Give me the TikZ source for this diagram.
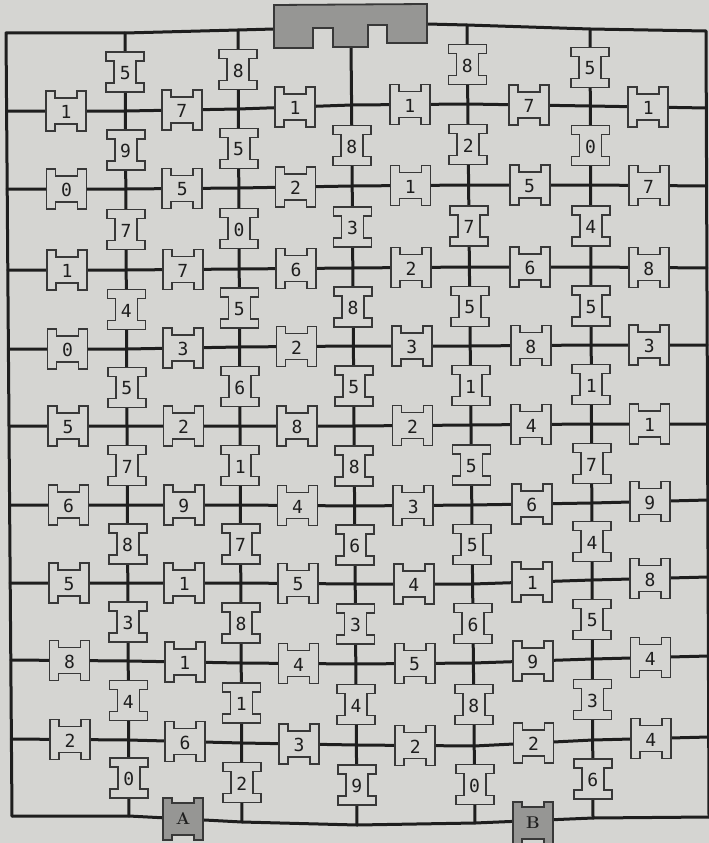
\documentclass[tikz,border=0pt]{standalone}
\usepackage{fontspec}
\newfontfamily\digitfont{DejaVu Sans Mono}
\usetikzlibrary{calc}
\definecolor{paper}{HTML}{D5D5D2}
\definecolor{ink}{HTML}{1E1E1E}
\definecolor{boxink}{HTML}{383838}
\definecolor{gatefill}{HTML}{969694}
\tikzset{
  wire/.style={draw=ink, line width=3pt, line join=round, line cap=round},
  boxline/.style={draw=boxink, line width=1.8pt, fill=paper, line join=miter},
  termline/.style={draw=boxink, line width=1.8pt, fill=gatefill, line join=miter},
  digit/.style={font=\digitfont\fontsize{18}{18}\selectfont, text=ink, inner sep=0pt},
  termlabel/.style={font=\rmfamily\bfseries\fontsize{17}{17}\selectfont, text=ink, inner sep=0pt},
  hres/.pic={\path[boxline] (-20,-20) -- (-11,-20) -- (-11,-13) -- (11,-13) -- (11,-20) -- (20,-20)
      -- (20,20) -- (11,20) -- (11,13) -- (-11,13) -- (-11,20) -- (-20,20) -- cycle;
    \node[digit] (-n) at (0,1) {#1};},
  vres/.pic={\path[boxline] (-19,-20) -- (19,-20) -- (19,-11) -- (11,-11) -- (11,11) -- (19,11)
      -- (19,20) -- (-19,20) -- (-19,11) -- (-11,11) -- (-11,-11) -- (-19,-11) -- cycle;
    \node[digit] (-n) at (0,1) {#1};},
  term/.pic={\path[termline] (-20,-21) -- (-11,-21) -- (-11,-16) -- (11,-16) -- (11,-21) -- (20,-21)
      -- (20,21) -- (11,21) -- (11,16) -- (-11,16) -- (-11,21) -- (-20,21) -- cycle;
    \node[termlabel] (-n) {#1};}
}
\begin{document}
\begin{tikzpicture}[x=1pt,y=-1pt]
\useasboundingbox (0,0) rectangle (709,843);
\fill[paper] (0,0) rectangle (709,843);

% grid intersections p-row-col
\foreach \r/\ys in {0/{33,33,30,28,25,29,31},
                    1/{111,111,109,105,104,106,108},
                    2/{189,189,188,186,185,185,186},
                    3/{270,270,269,268,267,267,268},
                    4/{349,349,347,346,346,345,345},
                    5/{426,426,426,426,425,424,424},
                    6/{505,505,505,506,505,503,500},
                    7/{583,583,583,584,584,580,577},
                    8/{660,661,663,664,663,659,656},
                    9/{739,740,743,745,746,740,737},
                    10/{816,816,822,825,823,818,817}}{
  \foreach \yy [count=\c from 0] in \ys {
    \pgfmathsetmacro{\xt}{{6,125,238,351,467,590,706}[\c]}
    \pgfmathsetmacro{\xb}{{12,129,242,357,475,593,709}[\c]}
    \pgfmathsetmacro{\xx}{\xt+(\xb-\xt)*\r/10}
    \coordinate (p-\r-\c) at (\xx,\yy);
  }
}

% top gate
\coordinate (gate-w) at (274,29);
\coordinate (gate-e) at (427,24);
\coordinate (gate-s) at (351,47);

% wires
\draw[wire] (gate-w) -- (p-0-2) -- (p-0-1) -- (p-0-0)
  \foreach \r in {1,...,10}{ -- (p-\r-0)};
\draw[wire] (gate-e) -- (p-0-4) -- (p-0-5) -- (p-0-6)
  \foreach \r in {1,...,10}{ -- (p-\r-6)};
\foreach \r in {1,...,10}{
  \draw[wire] (p-\r-0) \foreach \c in {1,...,6}{ -- (p-\r-\c)};
}
\foreach \c in {1,2,4,5}{
  \draw[wire] (p-0-\c) \foreach \r in {1,...,10}{ -- (p-\r-\c)};
}
\draw[wire] (gate-s) \foreach \r in {1,...,10}{ -- (p-\r-3)};

\path[termline] (274,5) -- (427,4) -- (427,43) -- (387,43) -- (387,25) -- (368,25) -- (368,47)
  -- (333,47) -- (333,28) -- (313,28) -- (313,48) -- (274,48) -- cycle;

% horizontal resistors
\foreach \r/\labs in {1/{1,7,1,1,7,1},
                      2/{0,5,2,1,5,7},
                      3/{1,7,6,2,6,8},
                      4/{0,3,2,3,8,3},
                      5/{5,2,8,2,4,1},
                      6/{6,9,4,3,6,9},
                      7/{5,1,5,4,1,8},
                      8/{8,1,4,5,9,4},
                      9/{2,6,3,2,2,4}}{
  \foreach \lab [count=\c from 0] in \labs {
    \pgfmathtruncatemacro{\cn}{\c+1}
    \pic (h-\r-\c) at ($(p-\r-\c)!0.5!(p-\r-\cn)$) {hres=\lab};
  }
}

% vertical resistors
\foreach \c/\sz/\labs in {1/1/{5,9,7,4,5,7,8,3,4,0},
                          2/1/{8,5,0,5,6,1,7,8,1,2},
                          3/2/{8,3,8,5,8,6,3,4,9},
                          4/1/{8,2,7,5,1,5,5,6,8,0},
                          5/1/{5,0,4,5,1,7,4,5,3,6}}{
  \foreach \lab [count=\s from \sz] in \labs {
    \pgfmathtruncatemacro{\sp}{\s-1}
    \pic (v-\c-\s) at ($(p-\sp-\c)!0.5!(p-\s-\c)$) {vres=\lab};
  }
}

% terminals
\pic (termA) at (183,819) {term=A};
\pic (termB) at (533,823) {term=B};
\end{tikzpicture}
\end{document}
